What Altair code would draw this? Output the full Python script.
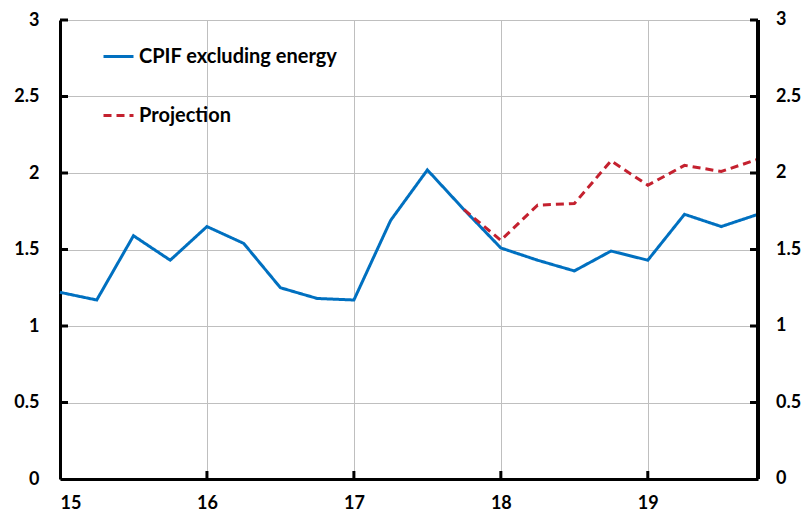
import altair as alt
import pandas as pd

# quarterly dates (year fraction, two-digit year)
quarters = [15.0, 15.25, 15.5, 15.75, 16.0, 16.25, 16.5, 16.75, 17.0, 17.25,
            17.5, 17.75, 18.0, 18.25, 18.5, 18.75, 19.0, 19.25, 19.5, 19.75]
cpif_ex_energy = [1.22, 1.17, 1.59, 1.43, 1.65, 1.54, 1.25, 1.18, 1.17, 1.69,
                  2.02, 1.76, 1.51, 1.43, 1.36, 1.49, 1.43, 1.73, 1.65, 1.73]
proj_quarters = [17.75, 18.0, 18.25, 18.5, 18.75, 19.0, 19.25, 19.5, 19.75]
projection = [1.76, 1.56, 1.79, 1.80, 2.08, 1.92, 2.05, 2.01, 2.09]

x_ticks = [15, 16, 17, 18, 19]
y_ticks = [0, 0.5, 1, 1.5, 2, 2.5, 3]
y_tick_labels = ["0", "0.5", "1", "1.5", "2", "2.5", "3"]
series_names = ["CPIF excluding energy", "Projection"]
series_colors = ["#0070C0", "#C4212F"]

df = pd.concat([
    pd.DataFrame({"x": quarters, "y": cpif_ex_energy, "series": series_names[0]}),
    pd.DataFrame({"x": proj_quarters, "y": projection, "series": series_names[1]}),
])

FONT = "Lato"
FS = 18
W, H = 698, 459
X_MIN, X_MAX = 15, 19.75
xscale = alt.Scale(domain=[X_MIN, X_MAX], nice=False, zero=False)
yscale = alt.Scale(domain=[0, 3], nice=False)

xaxis = alt.Axis(values=x_ticks, format="d", ticks=False, grid=True,
                 gridColor="#BFBFBF", gridWidth=1, domainColor="black",
                 domainWidth=3, labelFont=FONT, labelFontWeight="bold",
                 labelFontSize=FS, labelColor="black", labelPadding=15, title=None)
yaxis = alt.Axis(orient="left", values=y_ticks, format="~g", ticks=False,
                 grid=True, gridColor="#BFBFBF", gridWidth=1,
                 domainColor="black", domainWidth=3, labelFont=FONT,
                 labelFontWeight="bold", labelFontSize=FS,
                 labelColor="black", labelPadding=21, title=None)

legend = alt.Legend(title=None, orient="none", legendX=42, legendY=20,
                    symbolType="stroke", symbolSize=900, symbolStrokeWidth=3,
                    rowPadding=32, labelFont=FONT, labelFontWeight="bold",
                    labelFontSize=20, labelColor="black", labelOffset=4,
                    labelLimit=400)

lines = alt.Chart(df).mark_line(strokeWidth=3, clip=False).encode(
    x=alt.X("x:Q", scale=xscale, axis=xaxis),
    y=alt.Y("y:Q", scale=yscale, axis=yaxis),
    color=alt.Color("series:N", sort=series_names,
                    scale=alt.Scale(domain=series_names, range=series_colors),
                    legend=legend),
    strokeDash=alt.StrokeDash("series:N", sort=series_names,
                              scale=alt.Scale(domain=series_names,
                                              range=[[1, 0], [8, 5]]),
                              legend=legend),
    order=alt.Order("series:N"),
)

tick_df = pd.DataFrame({"y": y_ticks, "label": y_tick_labels})

# right-hand axis: line and labels on the same y scale
right_line = alt.Chart(tick_df).mark_rule(color="black", strokeWidth=3).encode(
    x=alt.datum(X_MAX, scale=xscale, axis=xaxis),
    y=alt.datum(0, scale=yscale, axis=yaxis), y2=alt.datum(3))
right_labels = alt.Chart(tick_df).mark_text(
    align="left", baseline="middle", dx=18, font=FONT, fontWeight="bold",
    fontSize=FS, color="black").encode(
    x=alt.datum(X_MAX, scale=xscale, axis=xaxis),
    y=alt.Y("y:Q", scale=yscale, axis=yaxis),
    text="label:N")

# inward tick marks (positions from the scales, length in pixels)
ytick_df = pd.DataFrame({"y": y_ticks[1:]})
left_ticks = alt.Chart(ytick_df).mark_rule(color="black", strokeWidth=3).encode(
    x=alt.value(0), x2=alt.value(8),
    y=alt.Y("y:Q", scale=yscale, axis=yaxis))
right_ticks = alt.Chart(ytick_df).mark_rule(color="black", strokeWidth=3).encode(
    x=alt.value(W), x2=alt.value(W - 8),
    y=alt.Y("y:Q", scale=yscale, axis=yaxis))
bottom_ticks = alt.Chart(pd.DataFrame({"x": x_ticks[1:]})).mark_rule(
    color="black", strokeWidth=3).encode(
    x=alt.X("x:Q", scale=xscale, axis=xaxis),
    y=alt.value(H), y2=alt.value(H - 8))

chart = alt.layer(lines, right_line, right_labels, left_ticks, right_ticks,
                  bottom_ticks).properties(
    width=W, height=H,
    autosize=alt.AutoSizeParams(type="none"),
    padding={"left": 52, "top": 12, "right": 43, "bottom": 33},
).configure_view(stroke=None).configure(background="white")

chart.save("out.html", embed_options={"renderer": "svg", "actions": False})
